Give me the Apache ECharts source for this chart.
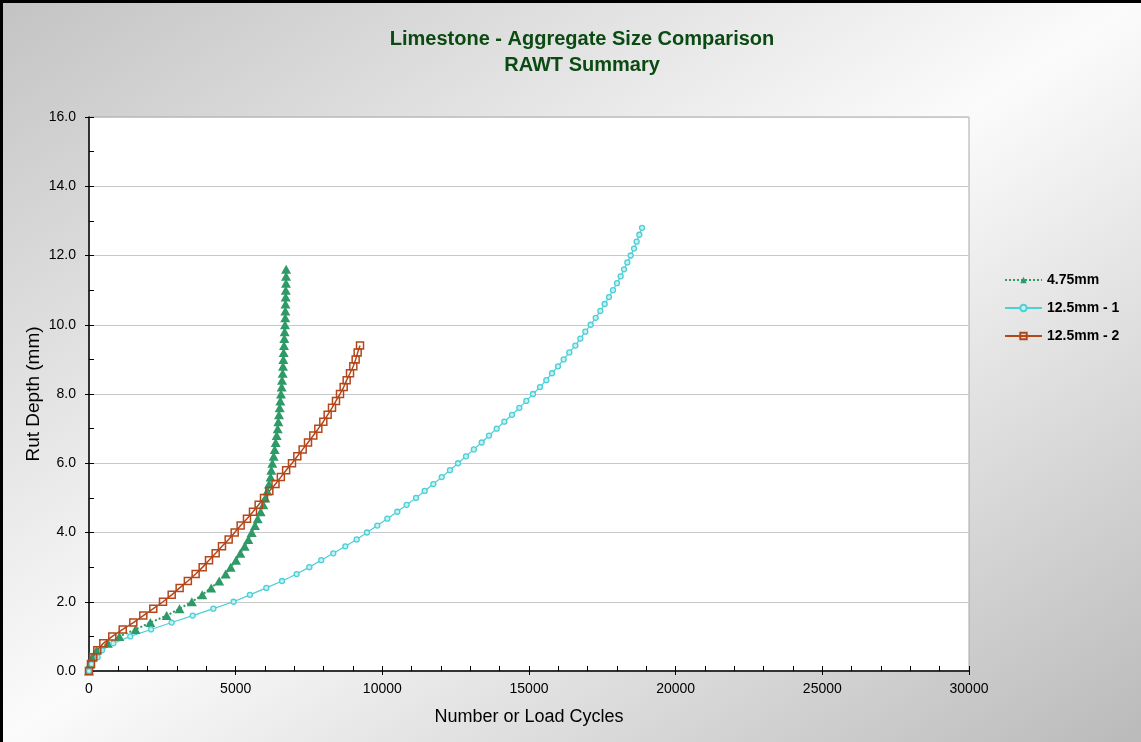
<!DOCTYPE html>
<html>
<head>
<meta charset="utf-8">
<title>Limestone - Aggregate Size Comparison</title>
<script src="https://cdn.jsdelivr.net/npm/echarts@6/dist/echarts.min.js"></script>
<style>
  html, body { margin: 0; padding: 0; background: #ffffff; }
  #chart { width: 1141px; height: 742px; }
</style>
</head>
<body>
<div id="chart"></div>
<script>
// Rut depth readings (mm), one every 0.2 mm
const depthMm = [
  0.0, 0.2, 0.4, 0.6, 0.8, 1.0, 1.2, 1.4, 1.6, 1.8,
  2.0, 2.2, 2.4, 2.6, 2.8, 3.0, 3.2, 3.4, 3.6, 3.8,
  4.0, 4.2, 4.4, 4.6, 4.8, 5.0, 5.2, 5.4, 5.6, 5.8,
  6.0, 6.2, 6.4, 6.6, 6.8, 7.0, 7.2, 7.4, 7.6, 7.8,
  8.0, 8.2, 8.4, 8.6, 8.8, 9.0, 9.2, 9.4, 9.6, 9.8,
  10.0, 10.2, 10.4, 10.6, 10.8, 11.0, 11.2, 11.4, 11.6, 11.8,
  12.0, 12.2, 12.4, 12.6, 12.8
];

// Load cycles needed to reach each depth above
const cycles475 = [
  0, 40, 110, 260, 640, 1034, 1585, 2090, 2648, 3085,
  3505, 3860, 4165, 4437, 4659, 4830, 5011, 5159, 5307, 5432,
  5545, 5659, 5750, 5852, 5943, 6011, 6080, 6136, 6190, 6215,
  6250, 6296, 6330, 6364, 6398, 6432, 6455, 6477, 6500, 6523,
  6545, 6568, 6580, 6602, 6614, 6625, 6636, 6648, 6659, 6670,
  6682, 6690, 6693, 6698, 6705, 6708, 6716, 6718, 6720
];

const cycles125a = [
  0, 90, 295, 445, 830, 1405, 2114, 2818, 3534, 4239,
  4930, 5485, 6045, 6580, 7080, 7511, 7915, 8329, 8738, 9125,
  9477, 9829, 10170, 10511, 10830, 11148, 11444, 11739, 12025, 12305,
  12580, 12852, 13120, 13387, 13636, 13898, 14159, 14420, 14670, 14909,
  15136, 15375, 15590, 15784, 15989, 16182, 16375, 16580, 16750, 16920,
  17102, 17273, 17432, 17580, 17727, 17864, 18000, 18125, 18239, 18352,
  18466, 18580, 18670, 18761, 18852
];

const cycles125b = [
  0, 68, 147, 283, 488, 794, 1149, 1510, 1851, 2192,
  2523, 2819, 3090, 3370, 3636, 3875, 4091, 4318, 4534, 4761,
  4966, 5170, 5386, 5591, 5784, 5966, 6148, 6358, 6540, 6720,
  6920, 7102, 7284, 7466, 7647, 7818, 7988, 8136, 8284, 8420,
  8557, 8682, 8784, 8898, 9011, 9091, 9159, 9239
];

const seriesNames = ['4.75mm', '12.5mm - 1', '12.5mm - 2'];

function pairs(cycles) {
  return cycles.map((c, i) => [c, depthMm[i]]);
}

const FONT = 'Arial, "Liberation Sans", Helvetica, sans-serif';
const GREEN = '#2e9a68';
const CYAN = '#4ccfd6';
const BROWN = '#b5461a';

const chart = echarts.init(document.getElementById('chart'), null, { renderer: 'canvas' });

chart.setOption({
  animation: false,
  backgroundColor: {
    type: 'linear',
    global: true,
    x: 0, y: 0, x2: 678, y2: 1043,
    colorStops: [
      { offset: 0, color: '#c3c3c3' },
      { offset: 0.5, color: '#fbfbfb' },
      { offset: 1, color: '#bababa' }
    ]
  },
  title: {
    text: 'Limestone - Aggregate Size Comparison\nRAWT Summary',
    left: 577,
    top: 21,
    textAlign: 'center',
    textStyle: {
      fontFamily: FONT,
      fontSize: 20,
      fontWeight: 'bold',
      color: '#0b4a12',
      lineHeight: 26
    }
  },
  legend: {
    orient: 'vertical',
    left: 999,
    top: 268,
    itemGap: 14,
    itemWidth: 37,
    itemHeight: 8,
    data: seriesNames,
    textStyle: { fontFamily: FONT, fontSize: 14, fontWeight: 'bold', color: '#000' }
  },
  grid: {
    left: 89,
    right: 172,
    top: 117,
    bottom: 71,
    show: true,
    backgroundColor: '#ffffff',
    borderColor: '#a8a8a8',
    borderWidth: 1
  },
  xAxis: [
    {
      type: 'value',
      position: 'bottom',
      min: 0,
      max: 30000,
      interval: 5000,
      name: 'Number or Load Cycles',
      nameLocation: 'middle',
      nameGap: 37,
      nameTextStyle: { fontFamily: FONT, fontSize: 18, color: '#000' },
      axisLine: { show: true, onZero: false, lineStyle: { color: '#000', width: 1.5 } },
      axisTick: { show: true, inside: false, length: 4, lineStyle: { color: '#000' } },
      axisLabel: {
        margin: 11,
        fontFamily: FONT,
        fontSize: 14,
        color: '#000',
        formatter: v => String(v)
      },
      splitLine: { show: false }
    },
    {
      type: 'value',
      position: 'bottom',
      min: 0,
      max: 30000,
      interval: 1000,
      axisLine: { show: false, onZero: false },
      axisTick: { show: true, inside: true, length: 5, lineStyle: { color: '#000' } },
      axisLabel: { show: false },
      splitLine: { show: false }
    }
  ],
  yAxis: [
    {
      type: 'value',
      position: 'left',
      min: 0,
      max: 16,
      interval: 2,
      name: 'Rut Depth (mm)',
      nameLocation: 'middle',
      nameGap: 46,
      nameMoveOverlap: false,
      nameTextStyle: { fontFamily: FONT, fontSize: 19, color: '#000' },
      axisLine: { show: true, onZero: false, lineStyle: { color: '#000', width: 1.5 } },
      axisTick: { show: true, inside: false, length: 4, lineStyle: { color: '#000' } },
      axisLabel: {
        margin: 13,
        fontFamily: FONT,
        fontSize: 14,
        color: '#000',
        formatter: v => v.toFixed(1)
      },
      splitLine: { show: true, lineStyle: { color: '#c8c8c8', width: 1 } }
    },
    {
      type: 'value',
      position: 'left',
      min: 0,
      max: 16,
      interval: 1,
      axisLine: { show: false, onZero: false },
      axisTick: { show: true, inside: true, length: 5, lineStyle: { color: '#000' } },
      axisLabel: { show: false },
      splitLine: { show: false }
    }
  ],
  series: [
    {
      name: seriesNames[0],
      type: 'line',
      xAxisIndex: 0,
      yAxisIndex: 0,
      data: pairs(cycles475),
      symbol: 'triangle',
      symbolSize: [10, 9],
      showAllSymbol: true,
      itemStyle: { color: GREEN },
      lineStyle: { color: GREEN, width: 2, type: 'dotted' }
    },
    {
      name: seriesNames[1],
      type: 'line',
      xAxisIndex: 0,
      yAxisIndex: 0,
      data: pairs(cycles125a),
      symbol: 'circle',
      symbolSize: 5,
      showAllSymbol: true,
      itemStyle: { color: '#c4f0f2', borderColor: CYAN, borderWidth: 1.3 },
      lineStyle: { color: CYAN, width: 1.2 }
    },
    {
      name: seriesNames[2],
      type: 'line',
      xAxisIndex: 0,
      yAxisIndex: 0,
      data: pairs(cycles125b),
      symbol: 'rect',
      symbolSize: 7,
      showAllSymbol: true,
      itemStyle: { color: 'rgba(255,255,255,0)', borderColor: BROWN, borderWidth: 1.5 },
      lineStyle: { color: BROWN, width: 1.5 }
    }
  ],
  graphic: [
    {
      type: 'rect',
      silent: true,
      z: 100,
      shape: { x: 0, y: 0, width: 3, height: 742 },
      style: { fill: '#000' }
    },
    {
      type: 'rect',
      silent: true,
      z: 100,
      shape: { x: 0, y: 0, width: 1141, height: 3 },
      style: { fill: '#000' }
    }
  ]
});
</script>
</body>
</html>
